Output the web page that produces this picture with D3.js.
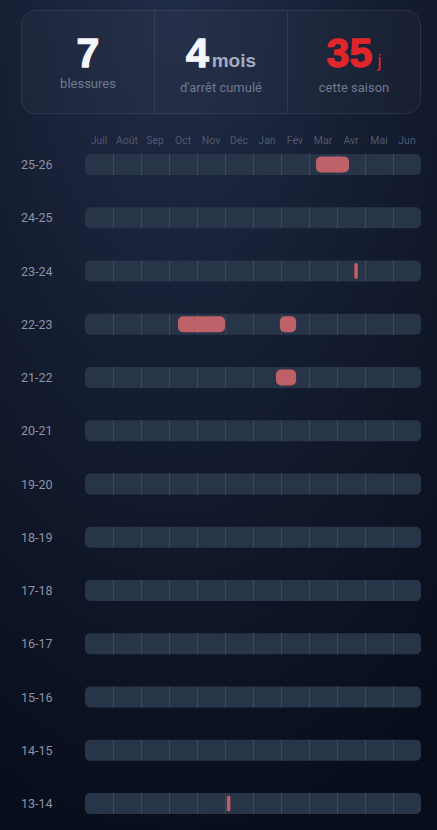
<!DOCTYPE html>
<html><head><meta charset="utf-8">
<script src="https://cdn.jsdelivr.net/npm/d3@7"></script>
<style>
html,body{margin:0;padding:0;background:#0b1020;}
svg{display:block;}
</style></head>
<body>
<svg id="c" width="437" height="830"></svg>
<script>
const seasons = ["25-26","24-25","23-24","22-23","21-22","20-21","19-20","18-19","17-18","16-17","15-16","14-15","13-14"];
const months = ["Juil","Août","Sep","Oct","Nov","Déc","Jan","Fév","Mar","Avr","Mai","Jun"];
// injuries: season, start (months since 1 July, fractional), end
const injurySeason = ["25-26","23-24","22-23","22-23","21-22","13-14"];
const injuryStart  = [8.25, 9.67, 3.32, 6.96, 6.82, 5.12];
const injuryEnd    = [9.43, 9.69, 5.0, 7.54, 7.54, 5.14];
const statValues = ["7","4","35"];
const statUnits  = ["","mois","j"];
const statLabels = ["blessures","d'arrêt cumulé","cette saison"];

const W = 437, H = 830;
const svg = d3.select("#c");
const defs = svg.append("defs");
const bg = defs.append("radialGradient").attr("id","bg").attr("cx","0.4").attr("cy","0").attr("r","1.05");
bg.append("stop").attr("offset","0").attr("stop-color","#212c47");
bg.append("stop").attr("offset","0.45").attr("stop-color","#151d31");
bg.append("stop").attr("offset","1").attr("stop-color","#080d1b");
svg.append("rect").attr("width",W).attr("height",H).attr("fill","url(#bg)");

// stats card
const card = {x:21.5,y:10.5,w:399,h:103};
svg.append("rect").attr("x",card.x).attr("y",card.y).attr("width",card.w).attr("height",card.h)
  .attr("rx",14).attr("fill","rgba(255,255,255,0.025)").attr("stroke","rgba(255,255,255,0.09)");
const cx = d3.scaleBand().domain(d3.range(3)).range([card.x, card.x+card.w]);
[1,2].forEach(i=>svg.append("line").attr("x1",cx(i)).attr("x2",cx(i)).attr("y1",card.y).attr("y2",card.y+card.h)
  .attr("stroke","rgba(255,255,255,0.08)"));
statValues.forEach((v,i)=>{
  const mid = cx(i)+cx.bandwidth()/2;
  const col = i===2 ? "#e0262b" : "#f4f6fa";
  const t = svg.append("text").attr("x",mid).attr("y",67).attr("text-anchor","middle")
    .attr("font-family","Liberation Sans, Arial, sans-serif");
  t.append("tspan").text(v).attr("font-size",41).attr("font-weight",700)
    .attr("fill", col).attr("stroke",col).attr("stroke-width",1.3).attr("stroke-linejoin","round");
  if(statUnits[i]){
    t.append("tspan").text(statUnits[i]).attr("dx", i===1?3:5)
      .attr("font-size", 19).attr("font-weight", i===1?700:400)
      .attr("fill", i===2 ? "#e0262b" : "#a3acc0").attr("stroke","none");
  }
  svg.append("text").attr("x",mid).attr("y", i===0 ? 87.5 : 92).attr("text-anchor","middle")
    .attr("font-family","Roboto, sans-serif").attr("font-size",13).attr("fill","#6e7a90").text(statLabels[i]);
});

// timeline
const x = d3.scaleLinear().domain([0,12]).range([85,421]);
const trackH = 21;
const y = d3.scaleLinear().domain([0, seasons.length-1]).range([164.5, 164.5+53.25*(seasons.length-1)]);
const rowY = s => y(seasons.indexOf(s));

svg.append("g").selectAll("text").data(months).join("text")
  .attr("x",(d,i)=>x(i+0.5)).attr("y",144).attr("text-anchor","middle")
  .attr("font-family","Roboto, sans-serif").attr("font-size",10.5).attr("fill","#4f5a6d").text(d=>d);

const rows = svg.append("g").selectAll("g").data(seasons).join("g")
  .attr("transform",d=>`translate(0,${rowY(d)})`);
rows.append("text").attr("x",21).attr("y",4.5).attr("font-family","Roboto, sans-serif")
  .attr("font-size",12.5).attr("fill","#8b93a6").text(d=>d);
rows.append("rect").attr("x",x(0)).attr("y",-trackH/2).attr("width",x(12)-x(0)).attr("height",trackH)
  .attr("rx",5).attr("fill","#283447");
rows.each(function(){
  d3.select(this).selectAll("line").data(d3.range(1,12)).join("line")
    .attr("x1",d=>Math.round(x(d))+0.5).attr("x2",d=>Math.round(x(d))+0.5)
    .attr("y1",-trackH/2).attr("y2",trackH/2).attr("stroke","#3c4a5e").attr("stroke-width",1);
});

const inj = injurySeason.map((s,i)=>({s, a:injuryStart[i], b:injuryEnd[i]}));
svg.append("g").selectAll("rect").data(inj).join("rect")
  .attr("x",d=>{const w=x(d.b)-x(d.a); return w<4 ? (x(d.a)+x(d.b))/2-1.75 : x(d.a);})
  .attr("width",d=>Math.max(3.5,x(d.b)-x(d.a)))
  .attr("y",d=>rowY(d.s)-8).attr("height",16)
  .attr("rx",d=>Math.min(5,Math.max(3.5,x(d.b)-x(d.a))/2))
  .attr("fill","#d1666c").attr("fill-opacity",0.88);
</script>
</body></html>
